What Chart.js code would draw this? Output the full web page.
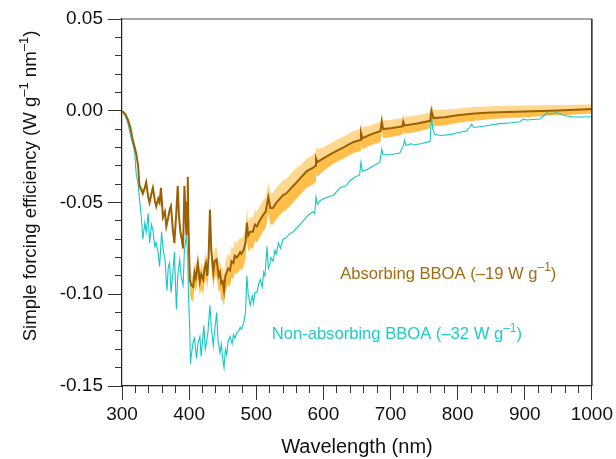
<!DOCTYPE html>
<html>
<head>
<meta charset="utf-8">
<script src="https://cdn.jsdelivr.net/npm/chart.js@4.4.0/dist/chart.umd.min.js"></script>
<style>
  html, body { margin: 0; padding: 0; background: #fff; }
</style>
</head>
<body>
<canvas id="chart" width="616" height="459"></canvas>
<script>
// wavelength grid (nm) for the absorbing BBOA curve and its uncertainty band
const absWl = [
  300, 305, 309, 313, 316, 319, 321, 324, 326, 329,
  331, 334, 336, 339, 341, 344, 346, 349, 351, 354,
  356, 358, 361, 364, 366, 369, 371, 373, 376, 378,
  381, 383, 385, 387, 389, 391, 393, 395, 396, 397,
  398, 399, 401, 403, 406, 408, 410, 413, 416, 418,
  421, 423, 425, 427, 429, 431, 433, 436, 438, 441,
  444, 446, 448, 450, 452, 454, 456, 458, 461, 463,
  466, 468, 471, 473, 476, 478, 481, 484, 486, 488,
  491, 495, 498, 501, 505, 510, 514, 518, 521, 525,
  530, 535, 540, 545, 550, 555, 560, 565, 570, 575,
  580, 585, 588, 589, 591, 600, 614, 630, 645, 655,
  656, 658, 670, 685, 687, 689, 700, 718, 719, 721,
  740, 759, 761, 764, 780, 800, 825, 850, 875, 900,
  925, 950, 975, 1000
];
const absVal = [
  0, -0.002, -0.005, -0.010, -0.016, -0.020, -0.023, -0.030, -0.041, -0.043,
  -0.045, -0.042, -0.039, -0.047, -0.050, -0.045, -0.042, -0.049, -0.052, -0.048,
  -0.050, -0.042, -0.058, -0.055, -0.063, -0.058, -0.054, -0.052, -0.066, -0.072,
  -0.055, -0.041, -0.058, -0.066, -0.070, -0.075, -0.041, -0.060, -0.068, -0.050,
  -0.036, -0.062, -0.092, -0.095, -0.096, -0.088, -0.091, -0.083, -0.093, -0.089,
  -0.092, -0.086, -0.083, -0.090, -0.080, -0.054, -0.076, -0.088, -0.082, -0.081,
  -0.090, -0.088, -0.094, -0.093, -0.098, -0.090, -0.088, -0.086, -0.087, -0.082,
  -0.083, -0.079, -0.080, -0.079, -0.077, -0.078, -0.076, -0.072, -0.061, -0.068,
  -0.066, -0.066, -0.062, -0.063, -0.060, -0.057, -0.055, -0.047, -0.053, -0.053,
  -0.050, -0.048, -0.046, -0.045, -0.043, -0.041, -0.039, -0.037, -0.035, -0.033,
  -0.032, -0.031, -0.030, -0.026, -0.028, -0.026, -0.023, -0.020, -0.017, -0.016,
  -0.012, -0.015, -0.013, -0.011, -0.006, -0.010, -0.0095, -0.0085, -0.006, -0.008,
  -0.007, -0.0055, 0.000, -0.004, -0.0035, -0.0025, -0.0015, -0.001, -0.0007, -0.0004,
  -0.0001, 0.0002, 0.0006, 0.001
];
const absUpper = [
  0, -0.001, -0.004, -0.009, -0.015, -0.019, -0.022, -0.028, -0.039, -0.041,
  -0.043, -0.040, -0.037, -0.045, -0.048, -0.043, -0.040, -0.047, -0.050, -0.046,
  -0.048, -0.040, -0.056, -0.053, -0.061, -0.056, -0.052, -0.050, -0.064, -0.070,
  -0.053, -0.039, -0.056, -0.064, -0.067, -0.072, -0.038, -0.057, -0.065, -0.047,
  -0.033, -0.058, -0.086, -0.089, -0.090, -0.082, -0.085, -0.077, -0.087, -0.083,
  -0.086, -0.080, -0.077, -0.083, -0.073, -0.047, -0.069, -0.081, -0.075, -0.074,
  -0.083, -0.081, -0.086, -0.085, -0.090, -0.082, -0.080, -0.078, -0.079, -0.074,
  -0.075, -0.071, -0.072, -0.071, -0.069, -0.070, -0.068, -0.064, -0.053, -0.060,
  -0.058, -0.058, -0.054, -0.055, -0.052, -0.049, -0.047, -0.039, -0.045, -0.045,
  -0.042, -0.040, -0.038, -0.037, -0.035, -0.033, -0.031, -0.030, -0.028, -0.026,
  -0.025, -0.024, -0.023, -0.019, -0.021, -0.020, -0.017, -0.014, -0.011, -0.010,
  -0.006, -0.009, -0.008, -0.006, -0.001, -0.005, -0.005, -0.004, -0.0015, -0.0035,
  -0.0025, -0.001, 0.0045, 0.0005, 0.0005, 0.0012, 0.002, 0.0025, 0.0027, 0.0028,
  0.003, 0.0032, 0.0033, 0.0035
];
const absLower = [
  0, -0.003, -0.006, -0.011, -0.017, -0.021, -0.024, -0.032, -0.043, -0.045,
  -0.047, -0.044, -0.041, -0.049, -0.052, -0.047, -0.044, -0.051, -0.054, -0.050,
  -0.052, -0.044, -0.060, -0.057, -0.065, -0.060, -0.056, -0.054, -0.068, -0.074,
  -0.057, -0.043, -0.060, -0.068, -0.073, -0.078, -0.044, -0.063, -0.071, -0.053,
  -0.039, -0.066, -0.100, -0.103, -0.104, -0.096, -0.099, -0.091, -0.101, -0.097,
  -0.100, -0.094, -0.091, -0.098, -0.088, -0.062, -0.084, -0.097, -0.091, -0.090,
  -0.099, -0.097, -0.104, -0.103, -0.107, -0.099, -0.097, -0.095, -0.096, -0.091,
  -0.092, -0.088, -0.089, -0.088, -0.086, -0.087, -0.085, -0.081, -0.070, -0.077,
  -0.075, -0.075, -0.071, -0.072, -0.069, -0.066, -0.064, -0.056, -0.062, -0.062,
  -0.059, -0.057, -0.055, -0.054, -0.052, -0.050, -0.048, -0.046, -0.044, -0.042,
  -0.041, -0.040, -0.039, -0.034, -0.036, -0.033, -0.029, -0.026, -0.023, -0.022,
  -0.018, -0.021, -0.019, -0.017, -0.011, -0.015, -0.0145, -0.013, -0.0105, -0.0125,
  -0.0115, -0.0095, -0.004, -0.0085, -0.008, -0.0065, -0.0055, -0.0045, -0.004, -0.0035,
  -0.003, -0.0025, -0.002, -0.0015
];

// non-absorbing BBOA curve
const nonWl = [
  300, 305, 309, 313, 316, 319, 321, 324, 326, 329,
  331, 334, 336, 339, 341, 344, 346, 349, 351, 354,
  356, 359, 361, 364, 367, 369, 371, 373, 376, 378,
  381, 383, 386, 388, 391, 393, 396, 398, 399, 401,
  402, 403, 406, 408, 411, 413, 416, 418, 420, 422,
  424, 426, 428, 431, 433, 436, 438, 441, 443, 446,
  448, 450, 452, 454, 456, 458, 461, 464, 466, 468,
  471, 474, 476, 478, 481, 484, 486, 488, 491, 494,
  496, 498, 501, 504, 506, 509, 511, 513, 516, 518,
  520, 522, 525, 528, 530, 533, 536, 540, 545, 550,
  555, 560, 565, 570, 575, 580, 585, 587, 589, 591,
  595, 600, 607, 615, 625, 633, 640, 648, 654, 656,
  658, 665, 675, 684, 687, 689, 700, 714, 719, 721,
  723, 730, 736, 745, 759, 761, 763, 766, 775, 789,
  800, 813, 818, 821, 824, 828, 845, 863, 880, 893,
  898, 903, 923, 930, 933, 940, 947, 955, 962, 972,
  985, 1000
];
const nonVal = [
  0, -0.003, -0.007, -0.014, -0.018, -0.023, -0.034, -0.040, -0.048, -0.059,
  -0.070, -0.061, -0.066, -0.056, -0.072, -0.062, -0.065, -0.074, -0.072, -0.078,
  -0.085, -0.066, -0.075, -0.081, -0.098, -0.085, -0.083, -0.099, -0.088, -0.077,
  -0.108, -0.090, -0.081, -0.090, -0.095, -0.076, -0.068, -0.080, -0.100, -0.121,
  -0.138, -0.134, -0.126, -0.124, -0.135, -0.127, -0.123, -0.134, -0.125, -0.117,
  -0.130, -0.126, -0.121, -0.106, -0.118, -0.128, -0.120, -0.110, -0.125, -0.132,
  -0.127, -0.135, -0.140, -0.130, -0.133, -0.126, -0.123, -0.127, -0.122, -0.124,
  -0.121, -0.120, -0.118, -0.119, -0.116, -0.110, -0.090, -0.100, -0.106, -0.101,
  -0.105, -0.099, -0.099, -0.094, -0.092, -0.096, -0.088, -0.090, -0.074, -0.086,
  -0.084, -0.080, -0.082, -0.076, -0.078, -0.072, -0.075, -0.070, -0.069, -0.067,
  -0.066, -0.064, -0.062, -0.060, -0.058, -0.056, -0.055, -0.056, -0.047, -0.051,
  -0.049, -0.048, -0.047, -0.046, -0.042, -0.041, -0.038, -0.036, -0.035, -0.028,
  -0.033, -0.032, -0.030, -0.028, -0.021, -0.024, -0.024, -0.023, -0.019, -0.016,
  -0.019, -0.018, -0.0185, -0.018, -0.0167, -0.003, -0.010, -0.013, -0.0135, -0.013,
  -0.012, -0.011, -0.009, -0.0075, -0.009, -0.009, -0.008, -0.007, -0.0065, -0.006,
  -0.0045, -0.005, -0.0045, -0.002, -0.0012, -0.0018, -0.001, -0.002, -0.0027, -0.0034,
  -0.0034, -0.0033
];

const xTicks = [300, 400, 500, 600, 700, 800, 900, 1000];
const yTicks = [-0.15, -0.10, -0.05, 0.00, 0.05];

const BROWN = '#9a6104';
const CYAN = '#14c6c6';
const FONT = '"Liberation Sans", Arial, sans-serif';

const pts = (xs, ys) => xs.map((x, i) => ({ x: x, y: ys[i] }));

// text with superscripts, pieces = [[text, isSup], ...]
function drawRich(ctx, pieces, x, y, size, color, align) {
  const supSize = Math.round(size * 0.72);
  let total = 0;
  pieces.forEach(p => {
    ctx.font = (p[1] ? supSize : size) + 'px ' + FONT;
    total += ctx.measureText(p[0]).width;
  });
  let cx = align === 'center' ? x - total / 2 : x;
  ctx.fillStyle = color;
  ctx.textAlign = 'left';
  ctx.textBaseline = 'alphabetic';
  pieces.forEach(p => {
    ctx.font = (p[1] ? supSize : size) + 'px ' + FONT;
    ctx.fillText(p[0], cx, p[1] ? y - size * 0.45 : y);
    cx += ctx.measureText(p[0]).width;
  });
}

const extras = {
  id: 'extras',
  afterDraw(chart) {
    const { ctx, chartArea: a, scales } = chart;
    ctx.save();
    // top and right frame
    ctx.lineWidth = 1.5;
    ctx.strokeStyle = '#8a8a8a';
    ctx.beginPath();
    ctx.moveTo(a.left, a.top);
    ctx.lineTo(a.right, a.top);
    ctx.stroke();
    ctx.strokeStyle = '#222';
    ctx.beginPath();
    ctx.moveTo(a.right, a.top);
    ctx.lineTo(a.right, a.bottom);
    ctx.stroke();

    // series labels
    drawRich(ctx, [['Absorbing BBOA (\u201319 W g', false], ['\u20131', true], [')', false]],
      scales.x.getPixelForValue(625), scales.y.getPixelForValue(-0.0915), 16.6, '#a36c12', 'left');
    drawRich(ctx, [['Non-absorbing BBOA (\u201332 W g', false], ['\u20131', true], [')', false]],
      scales.x.getPixelForValue(523), scales.y.getPixelForValue(-0.1245), 16.6, '#1ccccc', 'left');

    // y axis title
    ctx.translate(36, 186);
    ctx.rotate(-Math.PI / 2);
    drawRich(ctx, [['Simple forcing efficiency (W g', false], ['\u20131', true], [' nm', false], ['\u20131', true], [')', false]],
      0, 0, 18.6, '#111', 'center');
    ctx.restore();
  }
};

new Chart(document.getElementById('chart'), {
  type: 'line',
  data: {
    datasets: [
      {
        label: 'Non-absorbing BBOA',
        data: pts(nonWl, nonVal),
        borderColor: CYAN,
        borderWidth: 1.1,
        pointRadius: 0,
        fill: false,
        order: 1
      },
      {
        label: 'Absorbing BBOA',
        data: pts(absWl, absVal),
        borderColor: BROWN,
        borderWidth: 2,
        pointRadius: 0,
        fill: false,
        order: 0
      },
      {
        label: 'upper',
        data: pts(absWl, absUpper),
        borderColor: 'rgba(0,0,0,0)',
        borderWidth: 0,
        backgroundColor: '#ffd78e',
        pointRadius: 0,
        fill: 1,
        order: 3
      },
      {
        label: 'lower',
        data: pts(absWl, absLower),
        borderColor: 'rgba(0,0,0,0)',
        borderWidth: 0,
        backgroundColor: '#ffbf4a',
        pointRadius: 0,
        fill: 1,
        order: 2
      }
    ]
  },
  plugins: [extras],
  options: {
    responsive: false,
    devicePixelRatio: 1,
    animation: false,
    layout: { padding: { left: 0, right: 24, top: 19, bottom: 0 } },
    plugins: {
      legend: { display: false },
      tooltip: { enabled: false }
    },
    scales: {
      x: {
        type: 'linear',
        position: 'bottom',
        min: 300,
        max: 1000,
        afterBuildTicks: s => { s.ticks = xTicks.map(v => ({ value: v })); },
        afterFit: s => { s.height = 73; },
        grid: { drawOnChartArea: false, tickLength: 14, tickColor: '#333', tickWidth: 1 },
        border: { color: '#222', width: 1.2 },
        ticks: {
          color: '#111',
          font: { family: FONT, size: 19 },
          padding: 3,
          maxRotation: 0,
          autoSkip: false,
          callback: v => String(v)
        },
        title: {
          display: true,
          text: 'Wavelength (nm)',
          color: '#111',
          font: { family: FONT, size: 20 },
          padding: { top: 0, bottom: 0 }
        }
      },
      xMinor: {
        type: 'linear',
        axis: 'x',
        position: { y: -0.15 },
        min: 300,
        max: 1000,
        ticks: { display: false, stepSize: 20, maxTicksLimit: 100, autoSkip: false },
        grid: { drawOnChartArea: false, tickLength: 7, tickColor: '#333', tickWidth: 1 },
        border: { display: false }
      },
      y: {
        type: 'linear',
        position: 'left',
        min: -0.15,
        max: 0.05,
        afterBuildTicks: s => { s.ticks = yTicks.map(v => ({ value: v })); },
        afterFit: s => { s.width = 122; },
        grid: { drawOnChartArea: false, tickLength: 14, tickColor: '#333', tickWidth: 1 },
        border: { color: '#222', width: 1.2 },
        ticks: {
          color: '#111',
          font: { family: FONT, size: 19 },
          padding: 5,
          callback: v => v.toFixed(2)
        }
      },
      yMinor: {
        type: 'linear',
        axis: 'y',
        position: { x: 300 },
        min: -0.15,
        max: 0.05,
        ticks: { display: false, stepSize: 0.01, maxTicksLimit: 100 },
        grid: { drawOnChartArea: false, tickLength: 7, tickColor: '#333', tickWidth: 1 },
        border: { display: false }
      }
    }
  }
});
</script>
</body>
</html>
